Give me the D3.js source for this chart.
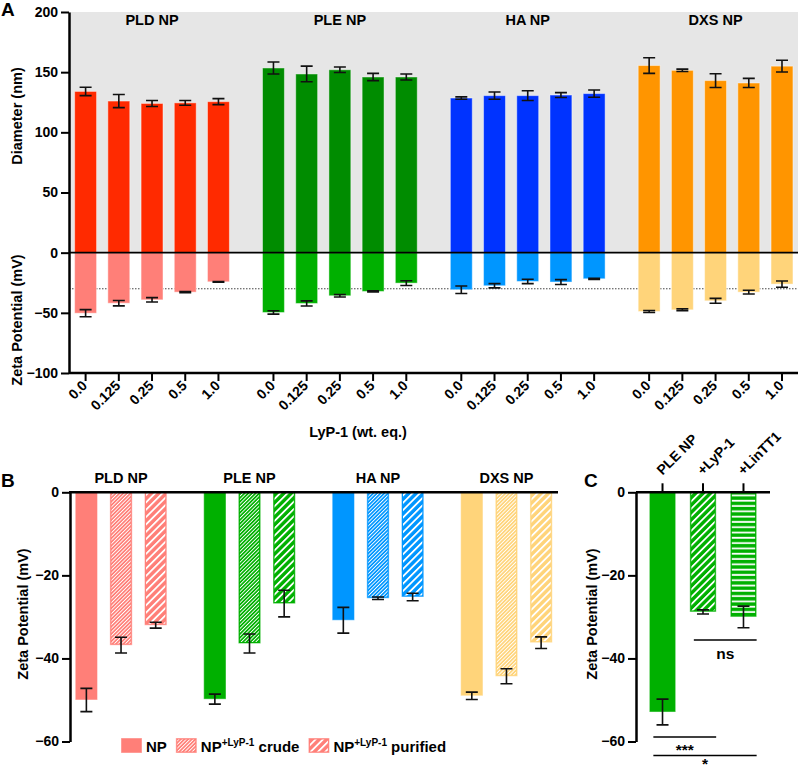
<!DOCTYPE html>
<head>
  <meta charset="utf-8" />
  <script src="https://cdn.jsdelivr.net/npm/d3@7"></script>
  <style>
    body { margin: 0; background: #fff; }
    svg { font-family: "Liberation Sans", Arial, Helvetica, sans-serif; font-weight: bold; }
  </style>
</head>
<body>
  <svg id="chart" width="800" height="772"></svg>
  <script>
    // ---- data ----
    const groups = ["PLD NP", "PLE NP", "HA NP", "DXS NP"];
    const doses = ["0.0", "0.125", "0.25", "0.5", "1.0"];
    const diameter = [
      [134, 126, 124, 124.5, 125.5],
      [153.5, 148.5, 152, 146, 146],
      [128.5, 130.5, 130.5, 131, 132.2],
      [155.5, 151.5, 143, 141, 155]
    ];
    const diameterErr = [
      [3.5, 5.5, 2.5, 2, 2.5],
      [5, 6.5, 2.3, 3, 2.5],
      [1, 3, 4, 2, 3],
      [6.5, 1, 5.7, 3.8, 4.9]
    ];
    const zetaA = [
      [-50.3, -42, -39.2, -32.8, -24.2],
      [-49.7, -42.2, -35.8, -32.2, -25.3],
      [-30.8, -27.5, -23.9, -24.4, -21.7],
      [-48.9, -47.5, -40, -32.8, -26.1]
    ];
    const zetaAErr = [
      [3, 2.2, 1.8, 0.5, 0.3],
      [1.4, 2.1, 1, 0.5, 2],
      [3.1, 1.8, 1.8, 2, 0.5],
      [0.8, 0.8, 2, 1.6, 2.6]
    ];
    const conditions = ["NP", "crude", "purified"];
    const zetaB = [
      [-50, -36.8, -32],
      [-49.8, -36.4, -26.8],
      [-30.8, -25.5, -25.2],
      [-49, -44.3, -36.2]
    ];
    const zetaBErr = [
      [2.8, 1.9, 0.7],
      [1.2, 2.3, 3.2],
      [3.1, 0.3, 0.9],
      [0.9, 1.8, 1.4]
    ];
    const cLabels = ["PLE NP", "+LyP-1", "+LinTT1"];
    const zetaC = [-52.9, -28.8, -30];
    const zetaCErr = [3.1, 0.5, 2.6];
    const sigs = [
      { from: "+LyP-1", to: "+LinTT1", label: "ns" },
      { from: "PLE NP", to: "+LyP-1", label: "***" },
      { from: "PLE NP", to: "+LinTT1", label: "*" }
    ];

    const darkColors = ["#ff2a00", "#008c00", "#0033ff", "#ff9500"];
    const lightColors = ["#ff7f78", "#00b000", "#0096ff", "#ffd47a"];
    const barStroke = "rgba(255,255,255,0.45)";

    const svg = d3.select("#chart");
    const defs = svg.append("defs");

    // diagonal white hatches, drawn over a coloured bar
    const hatch = (id, size, w) => {
      defs.append("pattern").attr("id", id).attr("patternUnits", "userSpaceOnUse")
        .attr("width", size).attr("height", size).attr("patternTransform", "rotate(45)")
        .append("rect").attr("x", 0).attr("y", 0).attr("width", w).attr("height", size).attr("fill", "#fff");
    };
    hatch("fine", 2.6, 0.9);
    hatch("wide", 5.2, 1.8);
    defs.append("pattern").attr("id", "horiz").attr("patternUnits", "userSpaceOnUse")
      .attr("width", 8).attr("height", 5.3)
      .append("rect").attr("x", 0).attr("y", 1.6).attr("width", 8).attr("height", 1.8).attr("fill", "#fff");
    const patternOf = { NP: null, crude: "fine", purified: "wide" };

    const styleAxis = (g) => {
      g.select(".domain").attr("stroke", "#000").attr("stroke-width", 2.5);
      g.selectAll(".tick line").attr("stroke", "#000").attr("stroke-width", 2);
      g.selectAll(".tick text").attr("font-size", 14).attr("font-weight", "bold").attr("fill", "#000")
        .attr("font-family", '"Liberation Sans", Arial, sans-serif');
    };

    const errPath = (x, y1, y2) => `M${x - 6},${y1}H${x + 6}M${x},${y1}V${y2}M${x - 6},${y2}H${x + 6}`;

    // ================= Panel A =================
    const yA = d3.scaleLinear().domain([-100, 200]).range([373, 12]);
    const gA = d3.scaleBand().domain(groups).range([69, 798.6]).paddingInner(0.116);
    const dA = d3.scaleBand().domain(doses).range([0, gA.bandwidth()]).paddingInner(0.34).paddingOuter(0.17);

    const recA = [];
    groups.forEach((g, gi) =>
      doses.forEach((d, di) =>
        recA.push({ g, gi, d, dia: diameter[gi][di], diaErr: diameterErr[gi][di], zeta: zetaA[gi][di], zetaErr: zetaAErr[gi][di] })
      )
    );
    const xA = (r) => gA(r.g) + dA(r.d);
    const cxA = (r) => xA(r) + dA.bandwidth() / 2;

    const pA = svg.append("g");
    pA.append("rect").attr("x", 69).attr("y", yA(200)).attr("width", 798 - 69).attr("height", yA(0) - yA(200)).attr("fill", "#e6e6e6");
    pA.append("line").attr("x1", 69).attr("x2", 798).attr("y1", yA(-30)).attr("y2", yA(-30))
      .attr("stroke", "#444").attr("stroke-width", 1).attr("stroke-dasharray", "1.5,1.5");

    pA.append("g").selectAll("rect").data(recA).join("rect")
      .attr("x", xA).attr("y", (r) => yA(r.dia)).attr("width", dA.bandwidth())
      .attr("height", (r) => yA(0) - yA(r.dia)).attr("fill", (r) => darkColors[r.gi])
      .attr("stroke", barStroke).attr("stroke-width", 1);
    pA.append("g").selectAll("rect").data(recA).join("rect")
      .attr("x", xA).attr("y", yA(0)).attr("width", dA.bandwidth())
      .attr("height", (r) => yA(r.zeta) - yA(0)).attr("fill", (r) => lightColors[r.gi])
      .attr("stroke", barStroke).attr("stroke-width", 1);

    pA.append("g").selectAll("path").data(recA).join("path")
      .attr("d", (r) => errPath(cxA(r), yA(r.dia + r.diaErr), yA(r.dia - r.diaErr)))
      .attr("stroke", "#111").attr("stroke-width", 1.6).attr("fill", "none");
    pA.append("g").selectAll("path").data(recA).join("path")
      .attr("d", (r) => errPath(cxA(r), yA(r.zeta + r.zetaErr), yA(r.zeta - r.zetaErr)))
      .attr("stroke", "#111").attr("stroke-width", 1.6).attr("fill", "none");

    pA.append("line").attr("x1", 69).attr("x2", 798).attr("y1", yA(0)).attr("y2", yA(0))
      .attr("stroke", "#000").attr("stroke-width", 1.6);

    pA.append("g").attr("transform", "translate(69,0)")
      .call(d3.axisLeft(yA).tickValues([-100, -50, 0, 50, 100, 150, 200]).tickSize(8).tickSizeOuter(0).tickPadding(3))
      .call(styleAxis);

    // bottom axis with one tick per bar
    pA.append("line").attr("x1", 69).attr("x2", 798).attr("y1", 373).attr("y2", 373).attr("stroke", "#000").attr("stroke-width", 2.5);
    const xt = pA.append("g").selectAll("g").data(recA).join("g").attr("transform", (r) => `translate(${cxA(r)},373)`);
    xt.append("line").attr("y2", 8).attr("stroke", "#000").attr("stroke-width", 2);
    xt.append("text").text((r) => r.d).attr("transform", "translate(-1,10) rotate(-45)")
      .attr("text-anchor", "end").attr("dy", "0.35em").attr("font-size", 14);

    pA.append("g").selectAll("text").data(groups).join("text")
      .text((d) => d).attr("x", (d) => gA(d) + gA.bandwidth() / 2).attr("y", 25)
      .attr("text-anchor", "middle").attr("font-size", 14.5);

    pA.append("text").text("A").attr("x", 1).attr("y", 16).attr("font-size", 19);
    pA.append("text").text("Diameter (nm)").attr("transform", "translate(22,116) rotate(-90)")
      .attr("text-anchor", "middle").attr("font-size", 14.5);
    pA.append("text").text("Zeta Potential (mV)").attr("transform", "translate(22,320) rotate(-90)")
      .attr("text-anchor", "middle").attr("font-size", 14.5);
    pA.append("text").text("LyP-1 (wt. eq.)").attr("x", 358).attr("y", 437)
      .attr("text-anchor", "middle").attr("font-size", 14.5);

    // ================= Panel B =================
    const yZ = d3.scaleLinear().domain([-60, 0]).range([741.5, 492.3]);
    const gB = d3.scaleBand().domain(groups).range([69, 558.5]).paddingInner(0.19);
    const cB = d3.scaleBand().domain(conditions).range([0, gB.bandwidth()]).paddingInner(0.357).paddingOuter(0.18);

    const recB = [];
    groups.forEach((g, gi) =>
      conditions.forEach((c, ci) => recB.push({ g, gi, c, v: zetaB[gi][ci], e: zetaBErr[gi][ci] }))
    );
    const xB = (r) => gB(r.g) + cB(r.c);

    const pB = svg.append("g");
    pB.append("g").selectAll("rect").data(recB).join("rect")
      .attr("x", xB).attr("y", yZ(0)).attr("width", cB.bandwidth())
      .attr("height", (r) => yZ(r.v) - yZ(0)).attr("fill", (r) => lightColors[r.gi])
      .attr("stroke", barStroke).attr("stroke-width", 1);
    pB.append("g").selectAll("rect").data(recB.filter((r) => patternOf[r.c])).join("rect")
      .attr("x", (r) => xB(r) + 1.5).attr("y", yZ(0)).attr("width", cB.bandwidth() - 3)
      .attr("height", (r) => yZ(r.v) - yZ(0) - 1.5).attr("fill", (r) => `url(#${patternOf[r.c]})`);
    pB.append("g").selectAll("path").data(recB).join("path")
      .attr("d", (r) => errPath(xB(r) + cB.bandwidth() / 2, yZ(r.v + r.e), yZ(r.v - r.e)))
      .attr("stroke", "#111").attr("stroke-width", 1.6).attr("fill", "none");

    pB.append("line").attr("x1", 69).attr("x2", 558).attr("y1", yZ(0)).attr("y2", yZ(0)).attr("stroke", "#000").attr("stroke-width", 2.5);
    pB.append("g").attr("transform", "translate(70,0)")
      .call(d3.axisLeft(yZ).tickValues([0, -20, -40, -60]).tickSize(8).tickSizeOuter(0).tickPadding(3))
      .call(styleAxis);

    pB.append("g").selectAll("text").data(groups).join("text")
      .text((d) => d).attr("x", (d) => gB(d) + gB.bandwidth() / 2).attr("y", 483)
      .attr("text-anchor", "middle").attr("font-size", 14.5);
    pB.append("text").text("B").attr("x", 1).attr("y", 487).attr("font-size", 19);
    pB.append("text").text("Zeta Potential (mV)").attr("transform", "translate(28,614) rotate(-90)")
      .attr("text-anchor", "middle").attr("font-size", 14.5);

    // legend
    const legend = pB.append("g").attr("transform", "translate(121,738)");
    let lx = 0;
    conditions.forEach((c) => {
      const item = legend.append("g").attr("transform", `translate(${lx},0)`);
      item.append("rect").attr("width", 21).attr("height", 15).attr("fill", lightColors[0]).attr("stroke", barStroke);
      if (patternOf[c]) {
        item.append("rect").attr("x", 1.5).attr("y", 1.5).attr("width", 18).attr("height", 12).attr("fill", `url(#${patternOf[c]})`);
      }
      const t = item.append("text").attr("x", 25).attr("y", 14).attr("font-size", 15);
      t.append("tspan").text("NP");
      if (c !== "NP") {
        t.append("tspan").text("+LyP-1").attr("font-size", 10).attr("dy", -6);
        t.append("tspan").text(" " + c).attr("dy", 6);
      }
      lx += 25 + t.node().getComputedTextLength() + 9;
    });

    // ================= Panel C =================
    const xC = d3.scaleBand().domain(cLabels).range([636, 770]).paddingInner(0.35).paddingOuter(0.33);
    const recC = cLabels.map((k, i) => ({ k, v: zetaC[i], e: zetaCErr[i] }));
    const fillC = { "PLE NP": null, "+LyP-1": "wide", "+LinTT1": "horiz" };
    const cxC = (k) => xC(k) + xC.bandwidth() / 2;

    const pC = svg.append("g");
    pC.append("g").selectAll("rect").data(recC).join("rect")
      .attr("x", (r) => xC(r.k)).attr("y", yZ(0)).attr("width", xC.bandwidth())
      .attr("height", (r) => yZ(r.v) - yZ(0)).attr("fill", lightColors[1])
      .attr("stroke", barStroke).attr("stroke-width", 1);
    pC.append("g").selectAll("rect").data(recC.filter((r) => fillC[r.k])).join("rect")
      .attr("x", (r) => xC(r.k) + 1.5).attr("y", yZ(0)).attr("width", xC.bandwidth() - 3)
      .attr("height", (r) => yZ(r.v) - yZ(0) - 1.5).attr("fill", (r) => `url(#${fillC[r.k]})`);
    pC.append("g").selectAll("path").data(recC).join("path")
      .attr("d", (r) => errPath(cxC(r.k), yZ(r.v + r.e), yZ(r.v - r.e)))
      .attr("stroke", "#111").attr("stroke-width", 1.6).attr("fill", "none");

    // top axis: line, upward ticks, rotated labels
    pC.append("line").attr("x1", 636).attr("x2", 770).attr("y1", yZ(0)).attr("y2", yZ(0)).attr("stroke", "#000").attr("stroke-width", 2.5);
    const ct = pC.append("g").selectAll("g").data(cLabels).join("g").attr("transform", (k) => `translate(${cxC(k)},${yZ(0)})`);
    ct.append("line").attr("y2", -9).attr("stroke", "#000").attr("stroke-width", 2);
    ct.append("text").text((k) => k).attr("transform", "translate(-3.5,-20) rotate(-45)")
      .attr("text-anchor", "start").attr("dy", "0.35em").attr("font-size", 14);

    pC.append("g").attr("transform", "translate(636,0)")
      .call(d3.axisLeft(yZ).tickValues([0, -20, -40, -60]).tickSize(8).tickSizeOuter(0).tickPadding(3))
      .call(styleAxis);

    pC.append("text").text("C").attr("x", 584).attr("y", 487).attr("font-size", 19);
    pC.append("text").text("Zeta Potential (mV)").attr("transform", "translate(597,614) rotate(-90)")
      .attr("text-anchor", "middle").attr("font-size", 14.5);

    // significance brackets
    const sigY = [640, 737, 755.5];
    const sigTextY = [659, 755, 769];
    const sigG = pC.append("g").selectAll("g").data(sigs).join("g");
    sigG.append("line")
      .attr("x1", (s) => xC(s.from) + 4).attr("x2", (s) => xC(s.to) + xC.bandwidth())
      .attr("y1", (s, i) => sigY[i]).attr("y2", (s, i) => sigY[i])
      .attr("stroke", "#000").attr("stroke-width", 1.6);
    sigG.append("text").text((s) => s.label)
      .attr("x", (s) => (xC(s.from) + 4 + xC(s.to) + xC.bandwidth()) / 2)
      .attr("y", (s, i) => sigTextY[i])
      .attr("text-anchor", "middle").attr("font-size", 15.5);
  </script>
</body>
